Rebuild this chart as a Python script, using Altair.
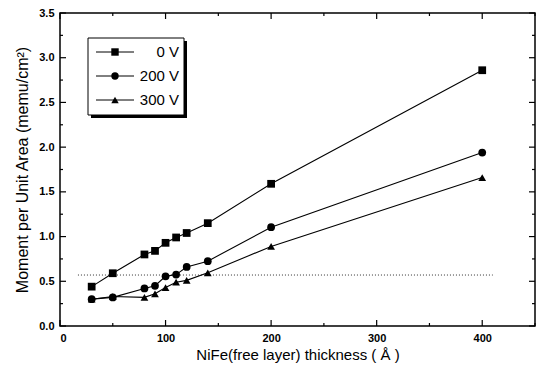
import altair as alt
import pandas as pd

# ---- data ----
thickness = [30, 50, 80, 90, 100, 110, 120, 140, 200, 400]
moment_0v = [0.44, 0.59, 0.80, 0.84, 0.93, 0.99, 1.04, 1.15, 1.59, 2.86]
moment_200v = [0.30, 0.32, 0.42, 0.45, 0.555, 0.575, 0.66, 0.725, 1.105, 1.94]
moment_300v = [0.30, 0.33, 0.32, 0.36, 0.43, 0.49, 0.51, 0.595, 0.89, 1.66]
series_names = ["0 V", "200 V", "300 V"]
series_shapes = ["square", "circle", "triangle-up"]

dotted_x = [17, 410]
dotted_y = [0.57, 0.57]

x_major = [0, 100, 200, 300, 400]
x_minor = [50, 150, 250, 350, 450]
y_major = [0.0, 0.5, 1.0, 1.5, 2.0, 2.5, 3.0, 3.5]
y_minor = [0.25, 0.75, 1.25, 1.75, 2.25, 2.75, 3.25]

W, H = 475, 313
FONT = "Liberation Sans"

rows = []
for name, vals in zip(series_names, [moment_0v, moment_200v, moment_300v]):
    for t, m in zip(thickness, vals):
        rows.append({"series": name, "thickness": t, "moment": m})
df = pd.DataFrame(rows)

xs = alt.Scale(domain=[0, 450], nice=False, zero=False)
ys = alt.Scale(domain=[0, 3.5], nice=False, zero=False)

base = alt.Chart(df)
lines = base.mark_line(color="black", strokeWidth=1.1).encode(
    x=alt.X("thickness:Q", scale=xs,
            axis=alt.Axis(values=x_major, title="NiFe(free layer) thickness ( Å )")),
    y=alt.Y("moment:Q", scale=ys,
            axis=alt.Axis(values=y_major, format=".1f",
                          title="Moment per Unit Area (memu/cm²)")),
    detail="series:N",
)
points = base.mark_point(filled=True, color="black", size=60, opacity=1).encode(
    x=alt.X("thickness:Q", scale=xs),
    y=alt.Y("moment:Q", scale=ys),
    shape=alt.Shape("series:N", scale=alt.Scale(domain=series_names, range=series_shapes), legend=None),
)

dotted = alt.Chart(pd.DataFrame({"x": dotted_x, "y": dotted_y})).mark_line(
    color="#333333", strokeWidth=1, strokeDash=[1, 2]
).encode(x=alt.X("x:Q", scale=xs), y=alt.Y("y:Q", scale=ys))

# inward ticks on all four sides
def xticks(vals, ln):
    d = pd.DataFrame({"x": vals})
    b = alt.Chart(d).mark_rule(color="black", strokeWidth=1.2)
    return (b.encode(x=alt.X("x:Q", scale=xs), y=alt.value(H), y2=alt.value(H - ln))
            + b.encode(x=alt.X("x:Q", scale=xs), y=alt.value(0), y2=alt.value(ln)))

def yticks(vals, ln):
    d = pd.DataFrame({"y": vals})
    b = alt.Chart(d).mark_rule(color="black", strokeWidth=1.2)
    return (b.encode(y=alt.Y("y:Q", scale=ys), x=alt.value(0), x2=alt.value(ln))
            + b.encode(y=alt.Y("y:Q", scale=ys), x=alt.value(W), x2=alt.value(W - ln)))

ticks = xticks(x_major, 6) + xticks(x_minor, 3) + yticks(y_major, 6) + yticks(y_minor, 3)

# custom legend box
one = pd.DataFrame({"a": [0]})
shadow = alt.Chart(one).mark_rect(fill="black").encode(
    x=alt.value(31), x2=alt.value(127), y=alt.value(28), y2=alt.value(105))
box = alt.Chart(one).mark_rect(fill="white", stroke="black", strokeWidth=1).encode(
    x=alt.value(28), x2=alt.value(124), y=alt.value(25), y2=alt.value(102))
legend_layers = [shadow, box]
for i, (name, shp) in enumerate(zip(series_names, series_shapes)):
    yy = 39 + 24 * i
    d = pd.DataFrame({"label": [name]})
    legend_layers.append(alt.Chart(d).mark_rule(color="black", strokeWidth=1).encode(
        x=alt.value(36), x2=alt.value(74), y=alt.value(yy)))
    legend_layers.append(alt.Chart(d).mark_point(filled=True, color="black", size=55,
                                                 shape=shp, opacity=1).encode(
        x=alt.value(55), y=alt.value(yy)))
    legend_layers.append(alt.Chart(d).mark_text(align="right", baseline="middle",
                                                font=FONT, fontSize=15, color="black").encode(
        x=alt.value(119), y=alt.value(yy), text="label:N"))

chart = alt.layer(dotted, lines, points, ticks, *legend_layers).properties(
    width=W, height=H,
    autosize=alt.AutoSizeParams(type="none"),
    padding={"left": 60, "top": 13, "right": 1, "bottom": 41},
    background="white",
).configure_view(
    stroke="black", strokeWidth=1.5
).configure_axis(
    ticks=False, domain=False, grid=False,
    labelFont=FONT, labelFontSize=11, labelColor="black", labelFontWeight="bold",
    titleFont=FONT, titleColor="black", titleFontWeight="normal",
    labelPadding=6,
).configure_axisX(
    titlePadding=4, titleFontSize=15
).configure_axisY(
    titlePadding=8, titleFontSize=16
)

chart.save("out.html", embed_options={"renderer": "svg", "actions": False})
